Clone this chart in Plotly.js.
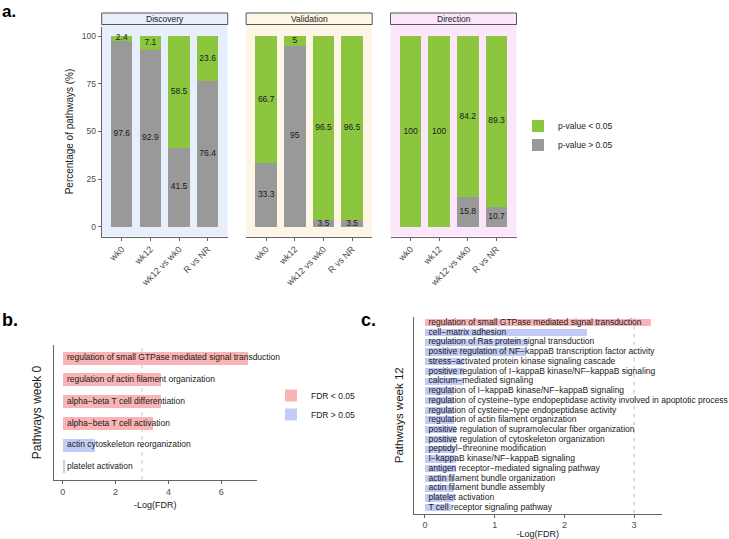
<!DOCTYPE html>
<html><head><meta charset="utf-8">
<script src="https://cdn.plot.ly/plotly-3.0.1.min.js"></script>
<style>html,body{margin:0;padding:0;background:#fff}#chart{width:729px;height:539px}</style>
</head><body><div id="chart"></div>
<script>
// ---------- data ----------
const comparisons = ['wk0', 'wk12', 'wk12 vs wk0', 'R vs NR'];
const facetNames = ['Discovery', 'Validation', 'Direction'];
const discoverySig = [2.4, 7.1, 58.5, 23.6];
const discoveryNonsig = [97.6, 92.9, 41.5, 76.4];
const validationSig = [66.7, 5, 96.5, 96.5];
const validationNonsig = [33.3, 95, 3.5, 3.5];
const directionSig = [100, 100, 84.2, 89.3];
const directionNonsig = [0, 0, 15.8, 10.7];

const week0Pathways = [
  'regulation of small GTPase mediated signal transduction',
  'regulation of actin filament organization',
  'alpha\u2212beta T cell differentiation',
  'alpha\u2212beta T cell activation',
  'actin cytoskeleton reorganization',
  'platelet activation'
];
const week0LogFdr = [7.0, 3.7, 3.7, 3.43, 1.21, 0.1];
const week0Significant = [true, true, true, true, false, false];

const week12Pathways = [
  'regulation of small GTPase mediated signal transduction',
  'cell\u2212matrix adhesion',
  'regulation of Ras protein signal transduction',
  'positive regulation of NF\u2212kappaB transcription factor activity',
  'stress\u2212activated protein kinase signaling cascade',
  'positive regulation of I\u2212kappaB kinase/NF\u2212kappaB signaling',
  'calcium\u2212mediated signaling',
  'regulation of I\u2212kappaB kinase/NF\u2212kappaB signaling',
  'regulation of cysteine\u2212type endopeptidase activity involved in apoptotic process',
  'regulation of cysteine\u2212type endopeptidase activity',
  'regulation of actin filament organization',
  'positive regulation of supramolecular fiber organization',
  'positive regulation of cytoskeleton organization',
  'peptidyl\u2212threonine modification',
  'I\u2212kappaB kinase/NF\u2212kappaB signaling',
  'antigen receptor\u2212mediated signaling pathway',
  'actin filament bundle organization',
  'actin filament bundle assembly',
  'platelet activation',
  'T cell receptor signaling pathway'
];
const week12LogFdr = [3.24, 2.32, 1.48, 1.45, 0.56, 0.56, 0.56, 0.42, 0.42, 0.42, 0.42, 0.44, 0.44, 0.43, 0.44, 0.45, 0.42, 0.42, 0.41, 0.38];
const week12Significant = [true, false, false, false, false, false, false, false, false, false, false, false, false, false, false, false, false, false, false, false];

const fdrCutoffLine = 3;

// ---------- style / layout helpers ----------
const FONT = 'Liberation Sans, Arial, Helvetica, sans-serif';
const GREEN = '#8CC63F', GREY = '#999999', PINK = '#F9B4B5', BLUE = '#C2CAF6';
const TXT = '#1a1a1a', AX = '#666666', TICKTXT = '#4d4d4d';
const W = 729, H = 539;
const fx = p => p / W, fy = p => 1 - p / H;

const facetSig = [discoverySig, validationSig, directionSig];
const facetNon = [discoveryNonsig, validationNonsig, directionNonsig];
const facetBg = ['#E7EEFC', '#FDF5E5', '#FBE6FB'];
const facetDomains = [[101.7, 227.7], [246.1, 372.2], [390.5, 516.5]];

const traces = [];
const shapes = [];
const annotations = [];
const layout = {
  width: W, height: H,
  margin: {l: 0, r: 0, t: 0, b: 0},
  paper_bgcolor: '#ffffff', plot_bgcolor: 'rgba(0,0,0,0)',
  font: {family: FONT, size: 9, color: TXT},
  barmode: 'stack',
  hovermode: false,
  legend: {x: fx(518), y: fy(135.5), xanchor: 'left', yanchor: 'middle', traceorder: 'normal',
           font: {size: 8.5, color: TXT, family: FONT}, bgcolor: 'rgba(0,0,0,0)', tracegroupgap: 0},
  legend2: {x: fx(271), y: fy(405), xanchor: 'left', yanchor: 'middle', traceorder: 'normal',
           font: {size: 8.5, color: TXT, family: FONT}, bgcolor: 'rgba(0,0,0,0)', tracegroupgap: 0}
};

facetNames.forEach((fname, i) => {
  const xa = i === 0 ? 'x' : 'x' + (i + 1);
  const ya = i === 0 ? 'y' : 'y' + (i + 1);
  const xk = i === 0 ? 'xaxis' : 'xaxis' + (i + 1);
  const yk = i === 0 ? 'yaxis' : 'yaxis' + (i + 1);
  const sig = facetSig[i], non = facetNon[i];
  traces.push({type: 'bar', x: comparisons, y: non, xaxis: xa, yaxis: ya, width: 0.75,
    marker: {color: GREY, line: {width: 0}}, name: 'p-value > 0.05', legend: 'legend',
    legendgroup: 'pgt', showlegend: i === 0, legendrank: 2, hoverinfo: 'skip'});
  traces.push({type: 'bar', x: comparisons, y: sig, xaxis: xa, yaxis: ya, width: 0.75,
    marker: {color: GREEN, line: {width: 0}}, name: 'p-value < 0.05', legend: 'legend',
    legendgroup: 'plt', showlegend: i === 0, legendrank: 1, hoverinfo: 'skip'});
  // labels in the middle of each stacked segment
  const lx = [], ly = [], lt = [];
  comparisons.forEach((c, j) => {
    if (non[j] > 0) { lx.push(c); ly.push(non[j] / 2); lt.push(String(non[j])); }
    if (sig[j] > 0) { lx.push(c); ly.push(non[j] + sig[j] / 2); lt.push(String(sig[j])); }
  });
  traces.push({type: 'scatter', mode: 'text', x: lx, y: ly, text: lt, xaxis: xa, yaxis: ya,
    textposition: 'middle center', textfont: {size: 8.5, color: TXT, family: FONT},
    showlegend: false, hoverinfo: 'skip', cliponaxis: false});

  layout[xk] = {domain: [fx(facetDomains[i][0]), fx(facetDomains[i][1])], anchor: ya,
    type: 'category', categoryarray: comparisons, categoryorder: 'array', range: [-0.7, 3.7],
    tickangle: -45, showline: true, linecolor: AX, linewidth: 1, ticks: 'outside', ticklen: 3,
    tickcolor: AX, tickfont: {size: 9, color: TICKTXT, family: FONT}, showgrid: false,
    zeroline: false, automargin: false, fixedrange: true};
  layout[yk] = {domain: [fy(236.5), fy(26.5)], anchor: xa, range: [-5, 105],
    tickvals: [0, 25, 50, 75, 100], showline: i === 0, linecolor: AX, linewidth: 1,
    ticks: i === 0 ? 'outside' : '', ticklen: 3, tickcolor: AX, showticklabels: i === 0,
    tickfont: {size: 8.5, color: TICKTXT, family: FONT}, showgrid: false, zeroline: false,
    automargin: false, fixedrange: true};
  if (i === 0) {
    layout[yk].title = {text: 'Percentage of pathways (%)', font: {size: 10, color: TXT, family: FONT}, standoff: 6};
  }
  shapes.push({type: 'rect', xref: xa + ' domain', yref: ya + ' domain', x0: 0, x1: 1, y0: 0, y1: 1.012,
    fillcolor: facetBg[i], line: {width: 0}, layer: 'below'});
  shapes.push({type: 'rect', xref: xa + ' domain', yref: 'paper', x0: 0, x1: 1, y0: fy(24.5), y1: fy(13),
    fillcolor: facetBg[i], line: {width: 1, color: '#555555'}, layer: 'above'});
  annotations.push({xref: xa + ' domain', yref: 'paper', x: 0.5, y: fy(18.8), text: fname,
    showarrow: false, xanchor: 'center', yanchor: 'middle', font: {size: 8.5, color: TXT, family: FONT}});
});

function pathwayPanel(names, vals, sigFlags, xa, ya, showLeg, barWidth, labelNudge) {
  const sx = [], sy = [], nx = [], ny = [];
  names.forEach((n, j) => {
    if (sigFlags[j]) { sx.push(vals[j]); sy.push(n); } else { nx.push(vals[j]); ny.push(n); }
  });
  traces.push({type: 'bar', orientation: 'h', x: sx, y: sy, xaxis: xa, yaxis: ya, width: barWidth,
    marker: {color: PINK, line: {width: 0}}, name: 'FDR < 0.05', legend: 'legend2',
    showlegend: showLeg, legendrank: 1, hoverinfo: 'skip'});
  traces.push({type: 'bar', orientation: 'h', x: nx, y: ny, xaxis: xa, yaxis: ya, width: barWidth,
    marker: {color: BLUE, line: {width: 0}}, name: 'FDR > 0.05', legend: 'legend2',
    showlegend: showLeg, legendrank: 2, hoverinfo: 'skip'});
  traces.push({type: 'scatter', mode: 'text', x: names.map(() => labelNudge), y: names, text: names,
    xaxis: xa, yaxis: ya, textposition: 'middle right', cliponaxis: false,
    textfont: {size: 8.5, color: TXT, family: FONT}, showlegend: false, hoverinfo: 'skip'});
  shapes.push({type: 'line', xref: xa, yref: ya + ' domain', x0: fdrCutoffLine, x1: fdrCutoffLine, y0: 0, y1: 1,
    line: {color: '#C4C4C4', width: 1, dash: '4px,4px'}, layer: 'below'});
}

// label nudge: about 4 px to the right of zero, expressed in each panel's axis units
pathwayPanel(week0Pathways, week0LogFdr, week0Significant, 'x4', 'y4', true, 0.6, 0.16);
pathwayPanel(week12Pathways, week12LogFdr, week12Significant, 'x5', 'y5', false, 0.75, 0.05);

layout.xaxis4 = {domain: [fx(53.5), fx(257)], anchor: 'y4', range: [-0.35, 7.35], tickvals: [0, 2, 4, 6],
  showline: true, linecolor: AX, linewidth: 1, ticks: 'outside', ticklen: 3, tickcolor: AX,
  tickfont: {size: 9, color: TICKTXT, family: FONT}, showgrid: false, zeroline: false, automargin: false,
  title: {text: '-Log(FDR)', font: {size: 9, color: TXT, family: FONT}, standoff: 5}, fixedrange: true};
layout.yaxis4 = {domain: [fy(480), fy(345)], anchor: 'x4', type: 'category',
  categoryarray: week0Pathways.slice().reverse(), categoryorder: 'array', range: [-0.6, week0Pathways.length - 0.4],
  showline: true, linecolor: AX, linewidth: 1, ticks: '', showticklabels: false, showgrid: false,
  zeroline: false, automargin: false,
  title: {text: 'Pathways week 0', font: {size: 12, color: TXT, family: FONT}, standoff: 8}, fixedrange: true};
layout.xaxis5 = {domain: [fx(413.7), fx(662)], anchor: 'y5', range: [-0.162, 3.40], tickvals: [0, 1, 2, 3],
  showline: true, linecolor: AX, linewidth: 1, ticks: 'outside', ticklen: 3, tickcolor: AX,
  tickfont: {size: 9, color: TICKTXT, family: FONT}, showgrid: false, zeroline: false, automargin: false,
  title: {text: '-Log(FDR)', font: {size: 9, color: TXT, family: FONT}, standoff: 3}, fixedrange: true};
layout.yaxis5 = {domain: [fy(513.5), fy(317)], anchor: 'x5', type: 'category',
  categoryarray: week12Pathways.slice().reverse(), categoryorder: 'array', range: [-0.6, week12Pathways.length - 0.4],
  showline: true, linecolor: AX, linewidth: 1, ticks: '', showticklabels: false, showgrid: false,
  zeroline: false, automargin: false,
  title: {text: 'Pathways week 12', font: {size: 11.5, color: TXT, family: FONT}, standoff: 6}, fixedrange: true};

// panel letters
annotations.push({xref: 'paper', yref: 'paper', x: fx(0), y: fy(0), text: '<b>a.</b>', showarrow: false,
  xanchor: 'left', yanchor: 'top', font: {size: 17, color: '#000', family: FONT}});
annotations.push({xref: 'paper', yref: 'paper', x: fx(0), y: fy(320), text: '<b>b.</b>', showarrow: false,
  xanchor: 'left', yanchor: 'middle', font: {size: 18, color: '#000', family: FONT}});
annotations.push({xref: 'paper', yref: 'paper', x: fx(359), y: fy(320), text: '<b>c.</b>', showarrow: false,
  xanchor: 'left', yanchor: 'middle', font: {size: 18, color: '#000', family: FONT}});

layout.shapes = shapes;
layout.annotations = annotations;

Plotly.newPlot('chart', traces, layout, {displayModeBar: false, staticPlot: true});
</script>
</body></html>
